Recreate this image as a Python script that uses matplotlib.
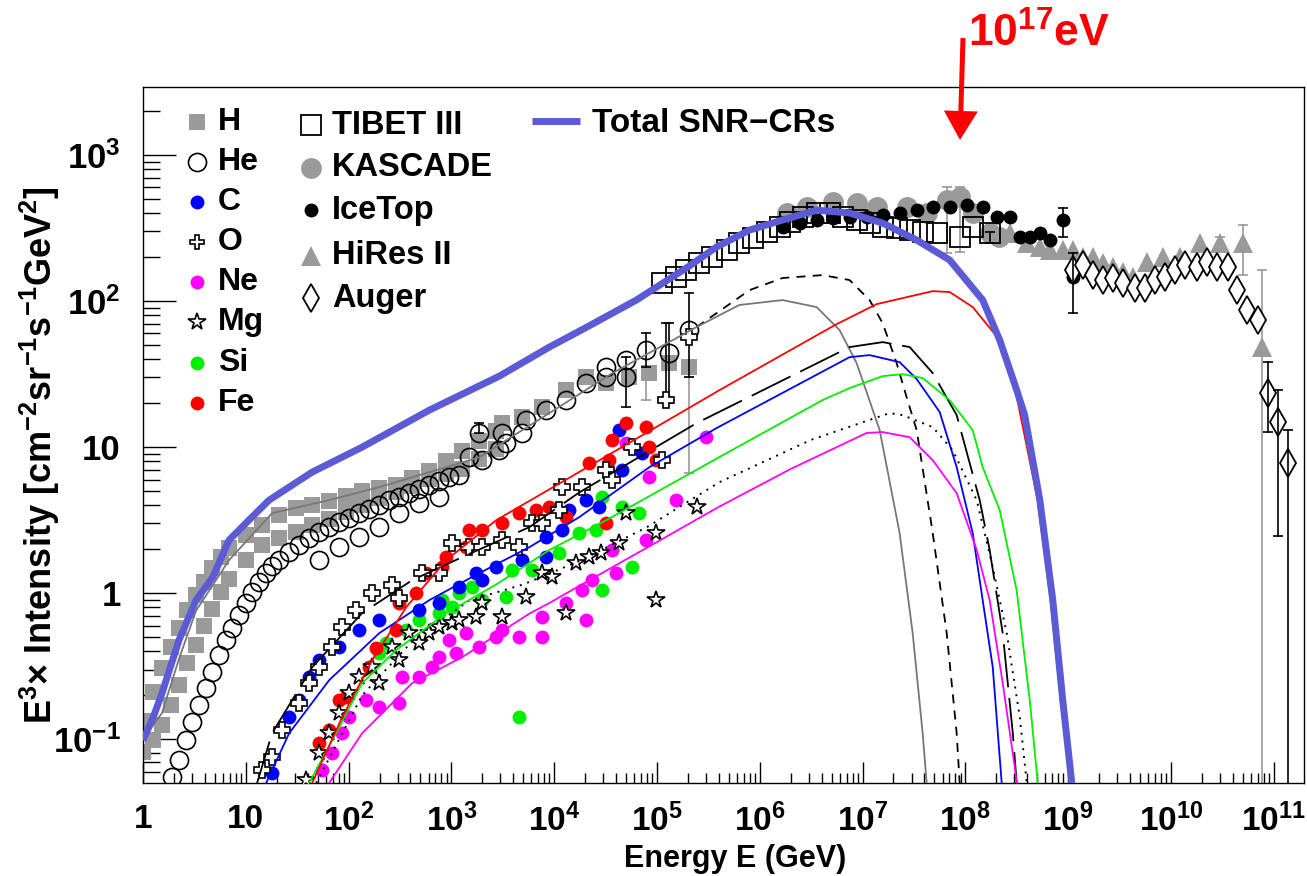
import numpy as np
import matplotlib
matplotlib.use('Agg')
import matplotlib.pyplot as plt
from matplotlib.ticker import LogLocator, FixedLocator, FixedFormatter, NullFormatter
from matplotlib.patches import FancyArrow

plt.rcParams['font.family'] = ['Liberation Sans', 'DejaVu Sans']
plt.rcParams['font.weight'] = 'bold'
plt.rcParams['mathtext.fontset'] = 'custom'
plt.rcParams['mathtext.rm'] = 'Liberation Sans:bold'
plt.rcParams['mathtext.bf'] = 'Liberation Sans:bold'
plt.rcParams['mathtext.it'] = 'Liberation Sans:bold'
plt.rcParams['mathtext.sf'] = 'Liberation Sans:bold'

# all values are log10(E/GeV) and log10(E^3 x intensity)

# ---- model curves ----
total_loge = [0.0, 0.1, 0.185, 0.35, 0.516, 0.68, 0.837, 1.03, 1.227, 1.646, 2.132, 2.785, 3.466, 3.953,
              4.3, 4.8, 5.3, 5.579, 5.9, 6.222, 6.553, 6.874, 7.196, 7.527, 7.848, 8.169, 8.335, 8.5,
              8.578, 8.725, 8.851, 8.948, 9.036]
total_logi = [-1.007, -0.849, -0.685, -0.322, -0.048, 0.11, 0.363, 0.5, 0.637, 0.829, 1.0, 1.253, 1.486, 1.685,
              1.815, 2.007, 2.233, 2.37, 2.486, 2.555, 2.623, 2.603, 2.534, 2.418, 2.281, 2.007, 1.733, 1.39,
              1.219, 0.637, -0.048, -0.733, -1.30]

hmod_loge = [0.0, 0.185, 0.35, 0.516, 0.837, 1.256, 1.811, 2.298, 3.27, 3.953, 4.567, 5.385, 5.80, 6.222,
             6.553, 6.777, 6.943, 7.167, 7.361, 7.488, 7.585, 7.624]
hmod_logi = [-1.0, -0.82, -0.45, -0.12, 0.226, 0.548, 0.637, 0.726, 0.93, 1.233, 1.507, 1.822, 1.973, 2.007,
             1.959, 1.801, 1.575, 1.116, 0.411, -0.274, -0.959, -1.30]

# He model, visible part beyond the last He points
hemod_loge = [5.385, 5.901, 6.222, 6.611, 6.874, 7.069, 7.196, 7.332, 7.429, 7.527, 7.683, 7.819, 7.916, 7.945]
hemod_logi = [1.822, 2.075, 2.158, 2.178, 2.144, 2.007, 1.849, 1.575, 1.342, 1.116, 0.411, -0.274, -0.959, -1.30]

cmod_loge = [1.198, 1.422, 1.811, 2.298, 2.785, 3.272, 3.759, 4.245, 4.927, 5.579, 6.874, 7.069, 7.361, 7.527,
             7.751, 7.916, 8.072, 8.169, 8.267, 8.354]
cmod_logi = [-1.30, -0.959, -0.596, -0.274, -0.048, 0.137, 0.315, 0.521, 0.863, 1.13, 1.616, 1.630, 1.582, 1.466,
             1.24, 0.863, 0.411, -0.048, -0.507, -1.30]

omod_loge = [1.11, 1.256, 1.646, 2.132, 2.619, 3.106, 3.759, 4.245, 5.385, 6.874, 7.196, 7.459, 7.683, 7.916,
             8.14, 8.237, 8.364, 8.462, 8.5]
omod_logi = [-1.30, -0.959, -0.507, -0.137, 0.089, 0.247, 0.452, 0.69, 1.164, 1.685, 1.719, 1.685, 1.507, 1.219,
             0.637, 0.295, -0.274, -0.959, -1.30]

nemod_loge = [1.811, 2.132, 2.619, 3.106, 3.759, 3.953, 4.245, 5.0, 5.6, 6.3, 7.04, 7.196, 7.459, 7.683, 7.916,
              8.111, 8.237, 8.364, 8.481, 8.5]
nemod_logi = [-1.30, -0.959, -0.616, -0.438, -0.14, -0.068, 0.05, 0.35, 0.59, 0.85, 1.097, 1.103, 1.068, 0.911,
              0.685, 0.295, -0.048, -0.616, -1.192, -1.30]

mgmod_loge = [1.685, 2.132, 2.619, 3.174, 3.7, 4.245, 4.898, 5.608, 6.5, 7.264, 7.391, 7.683, 7.877, 8.111,
              8.267, 8.403, 8.53, 8.598]
mgmod_logi = [-1.30, -0.70, -0.33, -0.05, 0.06, 0.22, 0.45, 0.76, 1.05, 1.233, 1.219, 1.137, 0.979, 0.637,
              0.178, -0.274, -0.849, -1.30]

simod_loge = [1.616, 1.879, 2.132, 2.463, 2.95, 3.437, 3.953, 4.508, 5.608, 6.611, 6.874, 7.196, 7.391, 7.585,
              7.848, 8.072, 8.169, 8.335, 8.5, 8.627, 8.705]
simod_logi = [-1.30, -0.959, -0.616, -0.390, -0.137, 0.06, 0.295, 0.5, 0.932, 1.322, 1.404, 1.486, 1.500, 1.473,
              1.322, 1.116, 0.863, 0.568, 0.017, -0.733, -1.30]

femod_loge = [1.646, 1.938, 2.23, 2.561, 2.95, 3.437, 4.245, 5.608, 6.748, 7.137, 7.683, 7.848, 8.072, 8.335,
              8.49, 8.70, 8.83, 8.93, 9.02]
femod_logi = [-1.30, -0.849, -0.459, -0.096, 0.226, 0.5, 0.83, 1.39, 1.842, 1.979, 2.068, 2.062, 1.959, 1.733,
              1.38, 0.65, -0.05, -0.75, -1.30]

# ---- data points ----
h_loge = [0.0, 0.0, 0.093, 0.093, 0.185, 0.185, 0.273, 0.273, 0.351, 0.351, 0.429, 0.429, 0.516, 0.516,
          0.594, 0.594, 0.672, 0.672, 0.759, 0.759, 0.837, 0.837, 1.0, 1.0, 1.159, 1.159, 1.324, 1.324,
          1.49, 1.49, 1.646, 1.646, 1.811, 1.811, 1.977, 1.977, 2.132, 2.132, 2.298, 2.298, 2.463, 2.463,
          2.619, 2.619, 2.785, 2.785, 2.95, 2.95, 3.106, 3.106, 3.272, 3.272, 3.437, 3.437,
          3.496, 3.69, 3.885, 4.119, 4.313, 4.508, 4.732, 4.927, 5.122, 5.316]
h_logi = [-0.877, -1.089, -0.678, -1.007, -0.514, -0.904, -0.370, -0.767, -0.240, -0.630, -0.116, -0.479,
          -0.014, -0.356, 0.075, -0.226, 0.171, -0.110, 0.247, 0.007, 0.308, 0.096, 0.397, 0.226, 0.466, 0.329,
          0.534, 0.377, 0.582, 0.418, 0.603, 0.466, 0.630, 0.507, 0.664, 0.555, 0.699, 0.603, 0.719, 0.651,
          0.740, 0.692, 0.788, 0.733, 0.836, 0.781, 0.904, 0.815, 0.973, 0.849, 1.041, 0.918, 1.110, 0.986,
          1.164, 1.205, 1.274, 1.390, 1.479, 1.438, 1.479, 1.507, 1.575, 1.548]

he_loge = [0.282, 0.351, 0.419, 0.477, 0.545, 0.613, 0.672, 0.740, 0.808, 0.867, 0.935, 1.003, 1.061, 1.130,
           1.198, 1.256, 1.324, 1.422, 1.519, 1.616, 1.714, 1.811, 1.908, 2.006, 2.103, 2.201, 2.298, 2.395,
           2.493, 2.590, 2.687, 2.785, 2.882, 2.980, 3.077,
           1.714, 1.908, 2.103, 2.298, 2.493, 2.687, 2.882,
           3.174, 3.30, 3.27, 3.466, 3.535, 3.496, 3.69, 3.729, 3.924, 4.119, 4.313, 4.508, 4.508, 4.703,
           4.703, 4.898, 5.122, 5.316]
he_logi = [-1.26, -1.144, -1.007, -0.884, -0.767, -0.651, -0.541, -0.425, -0.322, -0.240, -0.151, -0.068,
           0.007, 0.075, 0.137, 0.185, 0.226, 0.281, 0.329, 0.377, 0.418, 0.452, 0.486, 0.514, 0.548, 0.575,
           0.603, 0.637, 0.658, 0.685, 0.712, 0.740, 0.767, 0.795, 0.808,
           0.226, 0.315, 0.384, 0.452, 0.548, 0.616, 0.658,
           0.932, 0.911, 1.096, 0.979, 1.027, 1.096, 1.096, 1.185, 1.253, 1.322, 1.438, 1.548, 1.479, 1.596,
           1.479, 1.664, 1.644, 1.801]

c_loge = [1.256, 1.422, 1.519, 1.616, 1.714, 1.908, 2.103, 2.298, 2.687, 2.882, 3.077, 3.242, 3.30, 3.437,
          3.690, 3.924, 3.924, 4.08, 4.148, 4.313, 4.44, 4.664, 4.635, 4.859]
c_logi = [-1.233, -0.849, -0.733, -0.575, -0.459, -0.370, -0.253, -0.185, -0.116, -0.068, 0.041, 0.137, 0.089,
          0.178, 0.226, 0.247, 0.384, 0.432, 0.568, 0.637, 0.589, 0.842, 1.116, 0.959]

o_loge = [1.159, 1.256, 1.353, 1.519, 1.616, 1.714, 1.840, 1.938, 2.074, 2.23, 2.425, 2.493, 2.717, 2.882,
          3.009, 3.174, 3.30, 3.496, 3.661, 3.788, 3.885, 4.051, 4.08, 4.275, 4.508, 4.567, 4.761, 5.054,
          5.092, 5.316]
o_logi = [-1.212, -1.123, -0.938, -0.753, -0.616, -0.507, -0.370, -0.233, -0.116, 0.0, 0.055, -0.034, 0.137,
          0.137, 0.342, 0.315, 0.315, 0.363, 0.315, 0.479, 0.479, 0.568, 0.726, 0.726, 0.842, 0.774, 1.0, 0.911,
          1.322, 1.753]

ne_loge = [1.743, 1.840, 1.938, 2.006, 2.171, 2.298, 2.493, 2.522, 2.687, 2.814, 2.882, 2.98, 3.048, 3.145,
           3.272, 3.437, 3.496, 3.661, 3.885, 3.885, 4.119, 4.313, 4.275, 4.372, 4.567, 4.606, 4.898, 4.927,
           4.703, 5.19, 5.482]
ne_logi = [-1.212, -1.096, -0.959, -0.849, -0.733, -0.781, -0.753, -0.575, -0.575, -0.507, -0.438, -0.322,
           -0.411, -0.274, -0.370, -0.301, -0.253, -0.301, -0.301, -0.164, -0.068, -0.185, 0.021, 0.089, 0.295,
           0.137, 0.363, 0.795, 1.027, 0.637, 1.068]

mg_loge = [1.587, 1.714, 1.811, 1.908, 2.006, 2.103, 2.23, 2.298, 2.425, 2.493, 2.59, 2.687, 2.785, 2.882,
           3.009, 3.077, 3.242, 3.30, 3.496, 3.729, 3.885, 3.982, 4.119, 4.216, 4.343, 4.46, 4.635, 4.703,
           4.995, 5.385, 4.995]
mg_logi = [-1.281, -1.096, -0.959, -0.822, -0.685, -0.575, -0.507, -0.616, -0.370, -0.459, -0.274, -0.342,
           -0.274, -0.233, -0.205, -0.185, -0.164, -0.068, -0.164, -0.027, 0.137, 0.110, -0.137, 0.205, 0.247,
           0.274, 0.342, 0.548, 0.411, 0.589, -0.048]

si_loge = [2.298, 2.366, 2.561, 2.687, 2.882, 2.911, 3.009, 3.077, 3.203, 3.30, 3.535, 3.593, 3.788, 4.051,
           4.245, 4.411, 4.469, 4.664, 4.83, 4.761, 4.469, 3.661]
si_logi = [-0.411, -0.342, -0.253, -0.185, -0.137, -0.048, -0.096, 0.0, 0.041, -0.048, -0.027, 0.158, 0.158,
           0.274, 0.411, 0.432, 0.658, 0.589, 0.548, 0.178, 0.021, -0.849]

fe_loge = [1.714, 1.811, 1.908, 1.977, 2.201, 2.269, 2.463, 2.493, 2.658, 2.756, 2.911, 2.950, 3.145, 3.174,
           3.30, 3.496, 3.661, 3.827, 3.953, 4.119, 4.343, 4.508, 4.537, 4.567, 4.703, 4.898, 4.927, 4.995]
fe_logi = [-1.027, -0.938, -0.733, -0.712, -0.507, -0.377, -0.253, -0.068, 0.0, 0.137, 0.178, 0.247, 0.315,
           0.432, 0.432, 0.479, 0.548, 0.568, 0.589, 0.521, 0.890, 0.479, 0.911, 1.048, 1.164, 1.137, 1.0, 0.911]

tibet_loge = [5.054, 5.19, 5.287, 5.414, 5.540, 5.677, 5.803, 5.930, 6.066, 6.193, 6.290, 6.417, 6.553, 6.680,
              6.806, 6.943, 7.069, 7.196, 7.332, 7.459, 7.585, 7.722, 7.945, 8.072, 8.237]
tibet_logi = [2.123, 2.164, 2.212, 2.260, 2.301, 2.349, 2.397, 2.432, 2.473, 2.507, 2.541, 2.575, 2.603, 2.603,
              2.575, 2.555, 2.534, 2.507, 2.500, 2.486, 2.473, 2.466, 2.438, 2.507, 2.466]

kascade_loge = [6.261, 6.456, 6.709, 6.943, 7.137, 7.429, 7.624, 7.819, 7.945, 8.072, 8.237, 8.33]
kascade_logi = [2.603, 2.644, 2.678, 2.671, 2.644, 2.644, 2.603, 2.692, 2.712, 2.603, 2.466, 2.44]

icetop_loge = [6.222, 6.388, 6.553, 6.709, 6.874, 7.040, 7.196, 7.361, 7.527, 7.683, 7.848, 8.014, 8.169,
               8.306, 8.432, 8.53, 8.627, 8.725, 8.822, 8.948, 9.046]
icetop_logi = [2.507, 2.534, 2.555, 2.568, 2.575, 2.575, 2.589, 2.603, 2.623, 2.644, 2.644, 2.658, 2.644,
               2.575, 2.575, 2.438, 2.438, 2.466, 2.418, 2.555, 2.164]

hires_loge = [8.432, 8.598, 8.725, 8.822, 8.948, 9.046, 9.143, 9.241, 9.338, 9.435, 9.533, 9.630, 9.766,
              9.922, 10.088, 10.282, 10.477, 10.701, 10.886]
hires_logi = [2.466, 2.397, 2.370, 2.349, 2.349, 2.349, 2.301, 2.301, 2.260, 2.233, 2.199, 2.164, 2.267,
              2.301, 2.301, 2.397, 2.397, 2.397, 1.685]

auger_loge = [9.046, 9.143, 9.241, 9.338, 9.435, 9.533, 9.649, 9.747, 9.844, 9.942, 10.039, 10.136, 10.253,
              10.351, 10.448, 10.555, 10.643, 10.740, 10.847, 10.944, 11.042, 11.139]
auger_logi = [2.212, 2.247, 2.178, 2.144, 2.158, 2.123, 2.089, 2.089, 2.144, 2.164, 2.212, 2.247, 2.233,
              2.267, 2.233, 2.233, 2.075, 1.938, 1.870, 1.370, 1.171, 0.890]

# error bars: log10 E, low, high
err_black = [(4.703, 1.274, 1.616), (4.898, 1.548, 1.781), (5.122, 1.301, 1.849), (5.316, 1.479, 2.055),
             (5.092, 1.342, 1.849), (8.948, 2.438, 2.637), (9.046, 1.918, 2.329), (10.944, 1.103, 1.582),
             (11.042, 0.39, 1.39), (11.139, -1.35, 1.116), (3.27, 1.096, 1.164), (8.237, 2.40, 2.47)]
err_gray = [(4.898, 1.322, 1.548), (5.316, 0.822, 1.479), (7.819, 2.329, 2.781), (7.945, 2.336, 2.781),
            (10.477, 2.36, 2.44), (10.701, 2.178, 2.521), (10.886, -1.35, 2.212)]

xticks_exp = list(range(0, 12))
xtick_labels = ['1', '10'] + ['$10^{%d}$' % k for k in range(2, 12)]
yticks_exp = [-1, 0, 1, 2, 3]
ytick_labels = ['$10^{-1}$', '1', '10', '$10^{2}$', '$10^{3}$']


def v(a):
    return 10 ** np.asarray(a, dtype=float)


W, H = 1307, 876
fig = plt.figure(figsize=(W / 100, H / 100), dpi=100)
L, R, T, B = 143, 1304, 87, 783
ax = fig.add_axes([L / W, 1 - B / H, (R - L) / W, (B - T) / H])
ax.set_xscale('log')
ax.set_yscale('log')
ax.set_xlim(1, 10 ** 11.295)
ax.set_ylim(10 ** -1.30, 10 ** 3.466)

gray = '#9a9a9a'
# data
ax.plot(v(h_loge), v(h_logi), 's', color=gray, ms=12, mew=0, zorder=2)
ax.plot(v(hemod_loge), v(hemod_logi), color='k', lw=1.3, ls=(0, (5, 4)), zorder=2.5)
ax.plot(v(he_loge), v(he_logi), 'o', mfc='none', mec='k', ms=13, mew=1.2, zorder=3)
ax.plot(v(kascade_loge), v(kascade_logi), 'o', color=gray, ms=15, mew=0, zorder=2)
ax.plot(v(hires_loge), v(hires_logi), '^', color=gray, ms=15, mew=0, zorder=2)
ax.plot(v(tibet_loge), v(tibet_logi), 's', mfc='none', mec='k', ms=14, mew=1.3, zorder=3)
ax.plot(v(icetop_loge), v(icetop_logi), 'o', color='k', ms=10, mew=0, zorder=3)
ax.plot(v(auger_loge), v(auger_logi), 'd', mfc='white', mec='k', ms=14, mew=1.3, zorder=3)

ax.plot(v(ne_loge), v(ne_logi), 'o', color='#ff00ff', ms=10, mew=0, zorder=3)
ax.plot(v(si_loge), v(si_logi), 'o', color='#00ee00', ms=10, mew=0, zorder=3)
ax.plot(v(c_loge), v(c_logi), 'o', color='#0000ff', ms=10, mew=0, zorder=3)
ax.plot(v(fe_loge), v(fe_logi), 'o', color='#ff0000', ms=10, mew=0, zorder=3)
ax.plot(v(mg_loge), v(mg_logi), '*', mfc='white', mec='k', ms=13, mew=1.2, zorder=3.2)
ax.plot(v(o_loge), v(o_logi), 'P', mfc='white', mec='k', ms=12, mew=1.2, zorder=3.3)

for x, lo, hi in err_black:
    ax.plot([10 ** x] * 2, [10 ** lo, 10 ** hi], color='k', lw=1.2, zorder=3)
    ax.plot([10 ** x] * 2, [10 ** lo, 10 ** hi], '_', color='k', ms=7, mew=1.2, zorder=3)
for x, lo, hi in err_gray:
    ax.plot([10 ** x] * 2, [10 ** lo, 10 ** hi], color=gray, lw=1.2, zorder=2)
    ax.plot([10 ** x] * 2, [10 ** lo, 10 ** hi], '_', color=gray, ms=7, mew=1.2, zorder=2)

# models
ax.plot(v(hmod_loge), v(hmod_logi), color='#777777', lw=1.3, zorder=4)
ax.plot(v(cmod_loge), v(cmod_logi), color='#0000ff', lw=1.3, zorder=4)
ax.plot(v(omod_loge), v(omod_logi), color='k', lw=1.3, ls=(0, (24, 6)), zorder=4)
ax.plot(v(nemod_loge), v(nemod_logi), color='#ff00ff', lw=1.3, zorder=4)
ax.plot(v(mgmod_loge), v(mgmod_logi), color='k', lw=1.4, ls=(0, (1, 3)), zorder=4)
ax.plot(v(simod_loge), v(simod_logi), color='#00ee00', lw=1.3, zorder=4)
ax.plot(v(femod_loge), v(femod_logi), color='#ff0000', lw=1.3, zorder=4)
ax.plot(v(total_loge), v(total_logi), color='#5b5bd6', lw=5, zorder=5, solid_capstyle='butt')

# axes style
for s in ['top', 'right', 'left', 'bottom']:
    ax.spines[s].set_linewidth(1.0)
ax.xaxis.set_major_locator(FixedLocator(v(xticks_exp)))
ax.xaxis.set_major_formatter(FixedFormatter(xtick_labels))
ax.xaxis.set_minor_locator(LogLocator(base=10, subs=np.arange(2, 10), numticks=60))
ax.xaxis.set_minor_formatter(NullFormatter())
ax.yaxis.set_major_locator(FixedLocator(v(yticks_exp)))
ax.yaxis.set_major_formatter(FixedFormatter(ytick_labels))
ax.yaxis.set_minor_locator(LogLocator(base=10, subs=np.arange(2, 10), numticks=60))
ax.yaxis.set_minor_formatter(NullFormatter())
ax.tick_params(axis='x', which='major', direction='in', length=15, width=1, pad=15, labelsize=24, top=False)
ax.tick_params(axis='x', which='minor', direction='in', length=7, width=1, top=False)
ax.tick_params(axis='y', which='major', direction='in', length=24, width=1, pad=16, labelsize=25, right=False)
ax.tick_params(axis='y', which='minor', direction='in', length=12, width=1, right=False)

fig.text(735 / W, 1 - 874 / H, 'Energy E (GeV)', ha='center', va='bottom', fontsize=22, fontweight='bold')
fig.text(40 / W, 1 - 455 / H, r'E$^{3}$$\times$ Intensity [cm$^{-2}$sr$^{-1}$s$^{-1}$GeV$^{2}$]',
         rotation=90, ha='center', va='center', fontsize=26, fontweight='bold')


# legend drawn in pixel positions of the reference frame
def fr(px, py):
    return (px - L) / (R - L), (B - py) / (B - T)


leg1 = [('H', dict(marker='s', color=gray, ms=12, mew=0)),
        ('He', dict(marker='o', mfc='none', mec='k', ms=13, mew=1.2)),
        ('C', dict(marker='o', color='#0000ff', ms=10, mew=0)),
        ('O', dict(marker='P', mfc='white', mec='k', ms=10, mew=1.2)),
        ('Ne', dict(marker='o', color='#ff00ff', ms=10, mew=0)),
        ('Mg', dict(marker='*', mfc='white', mec='k', ms=13, mew=1.2)),
        ('Si', dict(marker='o', color='#00ee00', ms=10, mew=0)),
        ('Fe', dict(marker='o', color='#ff0000', ms=10, mew=0))]
rows1 = [122, 162, 202, 242, 282, 322, 363, 403]
for (name, st), py in zip(leg1, rows1):
    ax.plot(*fr(197, py), transform=ax.transAxes, clip_on=False, ls='none', zorder=6, **st)
    ax.text(*fr(218, py), name, transform=ax.transAxes, va='center', ha='left', fontsize=23, fontweight='bold')

leg2 = [('TIBET III', dict(marker='s', mfc='none', mec='k', ms=15, mew=1.3)),
        ('KASCADE', dict(marker='o', color=gray, ms=15, mew=0)),
        ('IceTop', dict(marker='o', color='k', ms=10, mew=0)),
        ('HiRes II', dict(marker='^', color=gray, ms=15, mew=0)),
        ('Auger', dict(marker='d', mfc='white', mec='k', ms=14, mew=1.3))]
rows2 = [125, 168, 210, 256, 298]
for (name, st), py in zip(leg2, rows2):
    ax.plot(*fr(311, py), transform=ax.transAxes, clip_on=False, ls='none', zorder=6, **st)
    ax.text(*fr(332, py), name, transform=ax.transAxes, va='center', ha='left', fontsize=23.5, fontweight='bold')

x0, y0 = fr(532, 121)
x1, _ = fr(580, 121)
ax.plot([x0, x1], [y0, y0], color='#5b5bd6', lw=5, transform=ax.transAxes, solid_capstyle='butt')
ax.text(*fr(592, 123), 'Total SNR\u2212CRs', transform=ax.transAxes, va='center', ha='left', fontsize=24,
        fontweight='bold')

# red arrow + label
fig.add_artist(FancyArrow(9.63, (H - 38) / 100, -0.03, -1.02, width=0.05, head_width=0.34, head_length=0.29,
                          length_includes_head=True, color='#ff0000', lw=0, transform=fig.dpi_scale_trans))
fig.text(968 / W, 1 - 47 / H, r'10$^{17}$eV', color='#ff0000', fontsize=32, fontweight='bold',
         ha='left', va='baseline')

fig.savefig('out.png', dpi=100)
